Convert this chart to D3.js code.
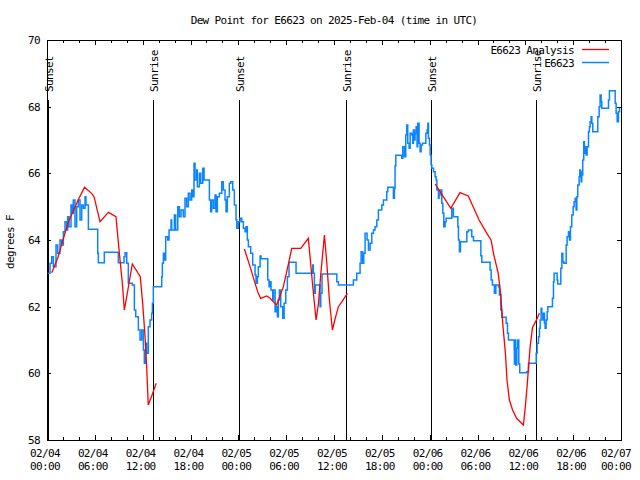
<!DOCTYPE html>
<html><head><meta charset="utf-8">
<script src="https://cdn.jsdelivr.net/npm/d3@7"></script>
<style>
body{margin:0;background:#fff}
svg{display:block}
text{font-family:"DejaVu Sans Mono",monospace;font-size:11px;letter-spacing:-0.65px;fill:#000}
</style></head><body>
<svg id="c" width="640" height="480"></svg>
<script>
const title = "Dew Point for E6623 on 2025-Feb-04 (time in UTC)";
const yLabel = "degrees F";
const startUTC = Date.UTC(2025, 1, 4, 0, 0);
const spanHours = 72;
const yTicks = [58, 60, 62, 64, 66, 68, 70];
const sunHours = [0.1, 13.35, 24.13, 37.45, 48.13, 61.4];
const sunLabels = ["Sunset", "Sunrise", "Sunset", "Sunrise", "Sunset", "Sunrise"];
const seriesNames = ["E6623 Analysis", "E6623"];

const blueHours = [0.08,0.38,0.59,0.80,1.13,1.34,1.63,1.84,2.05,2.26,2.47,2.59,2.76,3.01,3.18,3.30,3.51,3.72,3.93,4.14,4.35,4.56,4.77,4.89,5.19,6.36,6.44,7.19,8.95,9.66,9.79,10.0,10.2,10.7,10.96,11.13,11.46,11.67,11.88,12.09,12.21,12.38,12.5,12.71,12.92,13.13,13.22,13.34,14.39,14.47,14.6,14.72,14.89,15.14,15.31,15.56,15.64,15.98,16.14,16.4,16.6,16.81,17.1,17.31,17.52,17.73,17.94,18.15,18.27,18.44,
18.57,18.78,18.86,19.11,19.28,19.53,19.7,20.37,20.53,20.66,20.87,21.08,21.2,21.37,21.62,21.92,22.12,22.33,22.46,22.62,22.87,23.05,23.3,23.5,23.71,23.8,24.0,24.22,24.43,24.63,24.84,24.97,25.13,25.26,25.55,25.8,26.1,26.22,26.39,26.51,26.73,26.85,27.69,27.85,27.98,28.1,28.32,28.4,28.61,28.73,28.9,29.02,29.15,29.32,29.57,29.74,29.95,30.15,30.36,31.24,33.33,33.41,33.54,33.66,34.25,34.34,34.5,36.35,36.55,
38.43,38.86,39.27,39.4,39.6,39.73,39.9,40.15,40.32,40.53,40.74,40.95,41.15,41.37,41.57,41.99,42.2,42.62,42.74,43.45,43.58,43.66,43.75,44.5,44.63,44.83,45.0,45.13,45.25,45.42,45.55,45.76,45.88,45.96,46.09,46.17,46.3,46.42,46.5,46.67,46.8,46.93,47.1,47.52,47.68,47.77,47.85,47.98,48.06,48.18,48.27,48.48,48.68,48.81,48.9,49.1,49.18,49.31,49.52,49.65,49.77,49.94,50.06,50.78,50.98,51.53,51.61,51.73,51.86,52.66,52.86,53.28,53.49,54.42,54.54,
55.58,55.71,55.87,56.12,56.3,56.63,56.75,56.92,57.05,57.59,57.76,57.88,58.6,58.63,58.72,58.8,58.93,59.05,59.18,59.3,60.19,60.39,61.36,61.48,61.65,61.77,61.86,61.98,62.07,62.19,62.28,62.4,62.48,62.61,62.74,62.82,63.4,63.53,63.61,63.99,64.07,64.45,64.58,64.7,64.83,65.12,65.24,65.41,65.54,65.66,65.83,66.0,66.12,66.25,66.37,66.46,66.58,66.75,66.83,66.92,67.0,67.08,67.2,67.33,67.41,67.5,67.63,67.75,67.92,68.04,68.13,68.25,68.34,68.46,69.09,69.26,69.38,69.51,69.59,70.43,70.55,71.27,71.39,71.52,71.68,71.81,71.9];
const blueVals = [63.0,63.3,63.5,63.2,63.85,63.6,64.0,63.85,64.25,64.55,64.3,64.7,64.4,65.05,64.8,65.2,64.4,65.0,65.2,64.6,65.05,64.95,65.3,65.05,64.32,63.6,63.32,63.63,63.32,63.5,63.62,63.3,62.7,62.65,61.9,61.7,61.3,61.0,61.3,60.7,60.3,60.9,60.6,61.4,61.6,61.8,62.1,62.6,62.9,63.3,63.6,63.4,64.1,64.0,64.3,64.6,64.3,64.75,64.3,65.0,64.7,64.9,64.7,65.25,65.0,65.4,65.2,65.5,65.3,66.3,
65.8,66.1,65.6,66.0,65.7,66.15,65.8,65.2,64.85,65.2,64.95,65.35,64.85,65.3,65.4,65.75,65.5,65.2,64.85,65.3,65.7,65.75,65.5,65.05,64.6,64.35,64.55,64.65,64.55,64.35,64.25,64.4,64.0,63.8,63.6,63.25,62.95,62.7,62.9,63.2,63.52,63.44,62.8,62.6,62.75,62.5,62.2,62.5,61.85,62.0,61.7,62.2,62.5,62.0,61.65,62.1,62.5,62.9,63.33,63.0,63.25,63.0,62.4,62.65,62.0,62.4,62.98,62.75,62.65,
62.8,63.0,63.3,63.65,63.3,63.6,64.2,64.0,63.7,63.9,64.2,64.3,64.4,64.6,64.9,65.05,65.2,65.45,65.58,65.25,65.55,66.22,66.54,66.45,66.8,66.5,67.15,67.45,66.9,66.75,67.2,67.15,66.9,67.3,67.0,67.2,67.4,66.8,67.5,66.9,66.65,66.85,66.9,67.2,67.3,67.5,67.05,66.85,66.55,66.25,66.15,66.05,65.9,65.8,65.5,65.25,65.35,65.5,65.1,64.8,64.4,64.55,64.65,64.95,64.7,64.4,64.0,63.65,63.95,64.25,64.3,64.1,63.98,63.53,63.33,
63.1,62.8,62.65,62.4,62.65,62.6,62.35,61.9,61.68,61.5,61.2,61.0,60.7,60.28,61.0,60.25,60.75,61.0,60.28,60.02,60.05,60.3,60.6,60.9,61.1,61.35,61.6,61.95,61.8,61.6,61.8,61.5,61.35,61.6,61.85,62.0,62.25,62.75,63.0,62.8,62.68,63.15,63.6,63.35,63.3,63.85,64.1,64.25,64.0,64.4,64.75,65.0,65.15,65.25,64.9,65.3,65.65,65.9,66.1,66.05,65.75,65.95,66.4,66.95,66.6,66.8,66.55,66.8,67.25,67.4,67.55,67.7,67.5,67.25,67.7,68.0,68.35,68.15,67.95,68.2,68.48,68.1,67.8,67.55,67.85,67.95,67.95];

const redHours = [0.6,1.4,2.0,2.7,3.9,4.7,5.6,5.9,6.65,7.7,8.65,9.0,9.45,9.7,10.0,10.7,11.7,12.0,12.3,12.5,12.7,13.1,13.7,
18.0,
24.76,25.47,26.1,26.5,26.8,27.55,27.95,28.8,29.65,30.3,30.7,31.83,32.78,33.3,33.75,34.05,34.35,34.8,35.1,35.42,35.8,36.1,36.55,37.0,37.68,
43.0,
48.7,49.3,50.65,51.8,52.85,54.2,55.17,55.7,56.0,56.6,56.9,57.2,57.5,57.7,58.0,58.4,58.9,59.76,60.0,60.25,60.6,60.9,61.35,61.77];
const redVals = [63.02,63.5,64.0,64.55,65.2,65.58,65.4,65.3,64.55,64.83,64.7,63.8,62.7,61.9,62.3,63.28,62.9,62.1,61.1,60.2,59.05,59.3,59.7,
null,
63.73,63.2,62.7,62.4,62.25,62.32,62.26,62.05,62.6,63.3,63.75,63.75,64.05,62.7,61.6,62.1,63.0,64.15,63.3,62.2,61.3,61.6,62.0,62.15,62.4,
null,
65.68,65.45,64.95,65.42,65.32,64.6,64.2,64.0,63.6,63.0,62.4,61.4,60.6,59.8,59.2,58.9,58.65,58.45,59.0,59.7,60.8,61.38,61.58,61.8];

const L = 47, R = 621, T = 40, B = 440;
const toDate = h => new Date(startUTC + h * 3600e3);
const x = d3.scaleUtc().domain([toDate(0), toDate(spanHours)]).range([L, R]);
const y = d3.scaleLinear().domain([58, 70]).range([B, T]);

const svg = d3.select("#c");
svg.append("rect").attr("width", 640).attr("height", 480).attr("fill", "#fff");

svg.append("defs").append("clipPath").attr("id", "clip")
  .append("rect").attr("x", L).attr("y", T).attr("width", R - L).attr("height", B - T);

// title
svg.append("text").attr("x", 334).attr("y", 24).attr("text-anchor", "middle").text(title);
// y label
svg.append("text").attr("transform", "translate(14,242) rotate(-90)").attr("text-anchor", "middle").text(yLabel);

// axes ticks
const minor = d3.utcHour.every(2), major = d3.utcHour.every(6);
const gB1 = svg.append("g").attr("transform", `translate(0,${B})`)
  .call(d3.axisBottom(x).ticks(minor).tickSizeInner(-3).tickSizeOuter(0).tickFormat(""));
const gB2 = svg.append("g").attr("transform", `translate(0,${B})`)
  .call(d3.axisBottom(x).ticks(major).tickSizeInner(-5).tickSizeOuter(0).tickFormat(""));
const gT1 = svg.append("g").attr("transform", `translate(0,${T})`)
  .call(d3.axisTop(x).ticks(minor).tickSizeInner(-3).tickSizeOuter(0).tickFormat(""));
const gT2 = svg.append("g").attr("transform", `translate(0,${T})`)
  .call(d3.axisTop(x).ticks(major).tickSizeInner(-5).tickSizeOuter(0).tickFormat(""));
const gL = svg.append("g").attr("transform", `translate(${L},0)`)
  .call(d3.axisLeft(y).tickValues(yTicks).tickSizeInner(-4).tickSizeOuter(0).tickPadding(7).tickFormat(d3.format("d")));
const gR = svg.append("g").attr("transform", `translate(${R},0)`)
  .call(d3.axisRight(y).tickValues(yTicks).tickSizeInner(-4).tickSizeOuter(0).tickFormat(""));
[gB1, gB2, gT1, gT2, gL, gR].forEach(g => {
  g.select(".domain").remove();
  g.selectAll("line").attr("stroke", "#000").attr("shape-rendering", "crispEdges");
  g.selectAll("text").attr("font-family", null).attr("font-size", null).attr("fill", "#000");
});

// x tick labels (two lines)
const fmtD = d3.utcFormat("%m/%d"), fmtH = d3.utcFormat("%H:%M");
const majorTicks = x.ticks(major);
majorTicks.forEach((t, i) => {
  const cx = x(t) - (i === majorTicks.length - 1 ? 5 : 2);
  svg.append("text").attr("x", cx).attr("y", 457).attr("text-anchor", "middle").text(fmtD(t));
  svg.append("text").attr("x", cx).attr("y", 470).attr("text-anchor", "middle").text(fmtH(t));
});

// frame
svg.append("rect").attr("x", L + 0.5).attr("y", T + 0.5).attr("width", R - L).attr("height", B - T)
  .attr("fill", "none").attr("stroke", "#000").attr("shape-rendering", "crispEdges");

// sunrise / sunset
sunHours.forEach((h, i) => {
  const sx = Math.round(x(toDate(h))) + 0.5;
  svg.append("line").attr("x1", sx).attr("x2", sx).attr("y1", 100).attr("y2", B)
    .attr("stroke", "#000").attr("stroke-width", 1).attr("shape-rendering", "crispEdges");
  svg.append("text").attr("transform", `translate(${sx + 4},92) rotate(-90)`)
    .attr("text-anchor", "start").text(sunLabels[i]);
});

// data
const blue = blueHours.map((h, i) => ({ t: toDate(h), v: blueVals[i] }));
const red = redHours.map((h, i) => ({ t: toDate(h), v: redVals[i] }));
const plot = svg.append("g").attr("clip-path", "url(#clip)");
plot.append("path").datum(blue)
  .attr("d", d3.line().x(d => x(d.t)).y(d => y(d.v)).curve(d3.curveStepAfter))
  .attr("fill", "none").attr("stroke", "#0a84ff").attr("stroke-width", 1.5);
plot.append("path").datum(red)
  .attr("d", d3.line().defined(d => d.v !== null).x(d => x(d.t)).y(d => y(d.v)))
  .attr("fill", "none").attr("stroke", "#ff0000").attr("stroke-width", 1.3);

// legend
const legY = [49.5, 62.5], legCol = ["#ff0000", "#0a84ff"], legW = [1.3, 1.5];
seriesNames.forEach((n, i) => {
  svg.append("text").attr("x", 574).attr("y", legY[i] + 4).attr("text-anchor", "end").text(n);
  svg.append("line").attr("x1", 582).attr("x2", 609).attr("y1", legY[i]).attr("y2", legY[i])
    .attr("stroke", legCol[i]).attr("stroke-width", legW[i]);
});
</script>
</body></html>
